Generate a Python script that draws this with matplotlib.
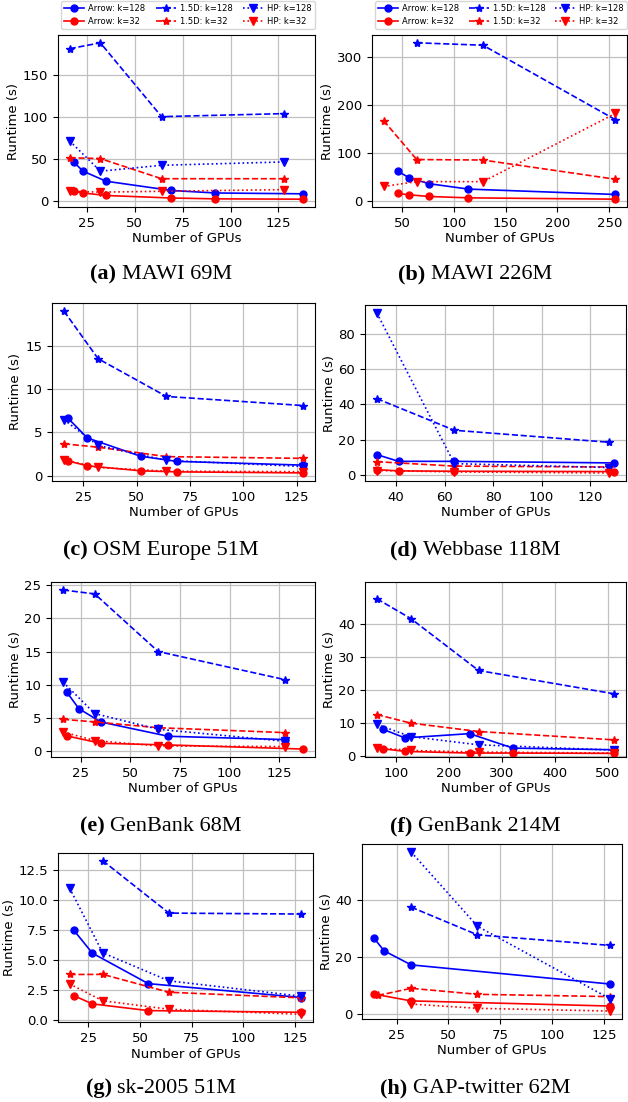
import matplotlib
matplotlib.use("Agg")
import matplotlib.pyplot as plt
from matplotlib.ticker import MultipleLocator, FixedLocator

# ---------------- data ----------------
# (a) MAWI 69M
mawi69_arrow_x = [18, 23, 35, 69, 92, 138]
mawi69_arrow128 = [46, 35, 23, 12, 9, 8]
mawi69_arrow32 = [11, 9, 6, 3, 2, 1.6]
mawi69_15d_x = [16, 32, 64, 128]
mawi69_15d128 = [181, 188, 100, 103.6]
mawi69_15d32 = [51, 50, 26, 26]
mawi69_hp_x = [16, 32, 64, 128]
mawi69_hp128 = [71, 35, 42, 46]
mawi69_hp32 = [11, 10, 11, 13]

# (b) MAWI 226M
mawi226_arrow_x = [46, 57, 76, 114, 256]
mawi226_arrow128 = [61.5, 47.6, 35.7, 24.5, 13.3]
mawi226_arrow32 = [15.4, 12.6, 9.1, 6.3, 3.5]
mawi226_15d128_x = [64, 128, 256]
mawi226_15d128 = [329, 324, 169]
mawi226_15d32_x = [32, 64, 128, 256]
mawi226_15d32 = [167, 86, 85, 45]
mawi226_hp128_x = []
mawi226_hp128 = []
mawi226_hp32_x = [32, 64, 128, 256]
mawi226_hp32 = [30, 40, 40, 182]

# (c) OSM Europe 51M
osm_arrow_x = [18, 27, 52, 69, 128]
osm_arrow128 = [6.6, 4.34, 2.23, 1.64, 1.21]
osm_arrow32 = [1.68, 1.13, 0.55, 0.43, 0.31]
osm_15d_x = [16, 32, 64, 128]
osm_15d128 = [19.0, 13.5, 9.14, 8.09]
osm_15d32 = [3.67, 3.28, 2.19, 1.99]
osm_hp_x = [16, 32, 64, 128]
osm_hp128 = [6.45, 3.48, 1.76, 1.05]
osm_hp32 = [1.8, 0.94, 0.51, 0.45]

# (d) Webbase 118M
web_arrow_x = [32, 41, 64, 130]
web_arrow128 = [11.5, 7.7, 7.7, 6.8]
web_arrow32 = [3.0, 2.3, 2.1, 1.9]
web_15d_x = [32, 64, 128]
web_15d128 = [43.2, 25.3, 18.5]
web_15d32 = [7.5, 5.0, 4.5]
web_hp_x = [32, 64, 128]
web_hp128 = [91.7, 6.4, 4.2]
web_hp32 = [2.5, 1.7, 1.1]

# (e) GenBank 68M
gb68_arrow128_x = [18, 24, 35, 69, 128]
gb68_arrow128 = [8.84, 6.38, 4.37, 2.21, 1.71]
gb68_arrow32_x = [18, 35, 69, 137]
gb68_arrow32 = [2.26, 1.15, 0.9, 0.28]
gb68_15d_x = [16, 32, 64, 128]
gb68_15d128 = [24.3, 23.7, 15.0, 10.75]
gb68_15d32 = [4.77, 4.37, 3.5, 2.76]
gb68_hp_x = [16, 32, 64, 128]
gb68_hp128 = [10.4, 5.63, 3.27, 1.45]
gb68_hp32 = [2.86, 1.56, 0.75, 0.65]

# (f) GenBank 214M
gb214_arrow_x = [76, 117, 239, 321, 512]
gb214_arrow128 = [8.1, 5.5, 6.8, 2.4, 1.9]
gb214_arrow32 = [2.2, 1.4, 0.9, 0.9, 0.8]
gb214_15d_x = [64, 128, 256, 512]
gb214_15d128 = [47.8, 41.8, 26.0, 18.9]
gb214_15d32 = [12.6, 10.0, 7.45, 4.9]
gb214_hp_x = [64, 128, 256, 512]
gb214_hp128 = [9.6, 5.9, 3.4, 1.8]
gb214_hp32 = [2.5, 1.7, 1.2, 0.9]
gb214_yticks = [0, 10, 20, 30, 40]

# (g) sk-2005 51M
sk_arrow_x = [18, 27, 54, 128]
sk_arrow128 = [7.49, 5.57, 3.03, 1.87]
sk_arrow32 = [2.03, 1.34, 0.78, 0.64]
sk_15d128_x = [32, 64, 128]
sk_15d128 = [13.28, 8.91, 8.83]
sk_15d32_x = [16, 32, 64, 128]
sk_15d32 = [3.79, 3.8, 2.31, 1.84]
sk_hp_x = [16, 32, 64, 128]
sk_hp128 = [11.0, 5.6, 3.26, 1.98]
sk_hp32 = [3.0, 1.6, 0.89, 0.47]

# (h) GAP-twitter 62M
tw_arrow128_x = [14, 19, 32, 128]
tw_arrow128 = [26.7, 22.2, 17.3, 10.6]
tw_arrow32_x = [14, 32, 128]
tw_arrow32 = [7.1, 4.7, 2.9]
tw_15d128_x = [32, 64, 128]
tw_15d128 = [37.5, 27.8, 24.1]
tw_15d32_x = [16, 32, 64, 128]
tw_15d32 = [6.6, 9.1, 7.0, 6.2]
tw_hp_x = [32, 64, 128]
tw_hp128 = [56.8, 30.8, 5.4]
tw_hp32 = [3.6, 2.1, 1.15]

series_labels = ["Arrow: k=128", "Arrow: k=32", "1.5D: k=128",
                 "1.5D: k=32", "HP: k=128", "HP: k=32"]
caption_tags = ["(a)", "(b)", "(c)", "(d)", "(e)", "(f)", "(g)", "(h)"]
caption_names = ["MAWI 69M", "MAWI 226M", "OSM Europe 51M", "Webbase 118M",
                 "GenBank 68M", "GenBank 214M", "sk-2005 51M", "GAP-twitter 62M"]

# ---------------- figure ----------------
W, H = 628, 1102
fig = plt.figure(figsize=(W / 100, H / 100), dpi=100)
plt.rcParams["font.family"] = ["DejaVu Sans"]

def box(l, r, t, b):
    return [l / W, 1 - b / H, (r - l) / W, (b - t) / H]

panels = [
    dict(pos=box(58, 315, 35, 207), xs=25, ys=50, legend=True, data=[
        (mawi69_arrow_x, mawi69_arrow128), (mawi69_arrow_x, mawi69_arrow32),
        (mawi69_15d_x, mawi69_15d128), (mawi69_15d_x, mawi69_15d32),
        (mawi69_hp_x, mawi69_hp128), (mawi69_hp_x, mawi69_hp32)]),
    dict(pos=box(372, 627, 35, 207), xs=50, ys=100, legend=True, data=[
        (mawi226_arrow_x, mawi226_arrow128), (mawi226_arrow_x, mawi226_arrow32),
        (mawi226_15d128_x, mawi226_15d128), (mawi226_15d32_x, mawi226_15d32),
        (mawi226_hp128_x, mawi226_hp128), (mawi226_hp32_x, mawi226_hp32)]),
    dict(pos=box(52, 315, 303, 481), xs=25, ys=5, legend=False, data=[
        (osm_arrow_x, osm_arrow128), (osm_arrow_x, osm_arrow32),
        (osm_15d_x, osm_15d128), (osm_15d_x, osm_15d32),
        (osm_hp_x, osm_hp128), (osm_hp_x, osm_hp32)]),
    dict(pos=box(365, 626, 305, 481), xs=20, ys=20, legend=False, data=[
        (web_arrow_x, web_arrow128), (web_arrow_x, web_arrow32),
        (web_15d_x, web_15d128), (web_15d_x, web_15d32),
        (web_hp_x, web_hp128), (web_hp_x, web_hp32)]),
    dict(pos=box(51, 315, 582, 757), xs=25, ys=5, legend=False, data=[
        (gb68_arrow128_x, gb68_arrow128), (gb68_arrow32_x, gb68_arrow32),
        (gb68_15d_x, gb68_15d128), (gb68_15d_x, gb68_15d32),
        (gb68_hp_x, gb68_hp128), (gb68_hp_x, gb68_hp32)]),
    dict(pos=box(365, 626, 582, 757), xs=100, ys=10, legend=False,
         yticks=gb214_yticks, ylim=(-0.3, 52.9), data=[
        (gb214_arrow_x, gb214_arrow128), (gb214_arrow_x, gb214_arrow32),
        (gb214_15d_x, gb214_15d128), (gb214_15d_x, gb214_15d32),
        (gb214_hp_x, gb214_hp128), (gb214_hp_x, gb214_hp32)]),
    dict(pos=box(58, 313, 853, 1022), xs=25, ys=2.5, legend=False, data=[
        (sk_arrow_x, sk_arrow128), (sk_arrow_x, sk_arrow32),
        (sk_15d128_x, sk_15d128), (sk_15d32_x, sk_15d32),
        (sk_hp_x, sk_hp128), (sk_hp_x, sk_hp32)]),
    dict(pos=box(362, 622, 844, 1019), xs=25, ys=20, legend=False, data=[
        (tw_arrow128_x, tw_arrow128), (tw_arrow32_x, tw_arrow32),
        (tw_15d128_x, tw_15d128), (tw_15d32_x, tw_15d32),
        (tw_hp_x, tw_hp128), (tw_hp_x, tw_hp32)]),
]

styles = [
    dict(color="blue", marker="o", ls="-", ms=5),
    dict(color="red", marker="o", ls="-", ms=5),
    dict(color="blue", marker="*", ls="--", ms=6),
    dict(color="red", marker="*", ls="--", ms=6),
    dict(color="blue", marker="v", ls=":", ms=5.5),
    dict(color="red", marker="v", ls=":", ms=5.5),
]

legend_boxes = {0: (61, 315), 1: (375, 627)}

for i, p in enumerate(panels):
    ax = fig.add_axes(p["pos"])
    for (x, y), st, lab in zip(p["data"], styles, series_labels):
        ax.plot(x, y, color=st["color"], marker=st["marker"], linestyle=st["ls"],
                markersize=st["ms"], linewidth=1.2, label=lab)
    ax.xaxis.set_major_locator(MultipleLocator(p["xs"]))
    if "yticks" in p:
        ax.yaxis.set_major_locator(FixedLocator(p["yticks"]))
    else:
        ax.yaxis.set_major_locator(MultipleLocator(p["ys"]))
    if "ylim" in p:
        ax.set_ylim(*p["ylim"])
    ax.grid(True, color="#c0c0c0", linewidth=0.9)
    ax.set_axisbelow(True)
    ax.tick_params(labelsize=9.5)
    ax.set_xlabel("Number of GPUs", fontsize=9.5, labelpad=2)
    ax.set_ylabel("Runtime (s)", fontsize=9.5, labelpad=2)
    if p["legend"]:
        l, r = legend_boxes[i]
        ax.legend(loc="upper left", bbox_to_anchor=(l / W, 1 - 1 / H, (r - l) / W, 0.0),
                  bbox_transform=fig.transFigure, mode="expand", ncol=3,
                  fontsize=6, borderaxespad=0, handlelength=2.4,
                  labelspacing=0.45, borderpad=0.35, columnspacing=1.0,
                  handletextpad=0.5)

# captions: bold tag + regular name, centred
renderer = fig.canvas.get_renderer()
cap_x = [161, 475]
cap_base = [279, 555, 831, 1093]
for i in range(8):
    xc = cap_x[i % 2]
    yb = cap_base[i // 2]
    t1 = fig.text(0, 0, caption_tags[i], fontfamily="Liberation Serif",
                  fontweight="bold", fontsize=16, va="baseline")
    t2 = fig.text(0, 0, caption_names[i], fontfamily="Liberation Serif",
                  fontsize=16, va="baseline")
    w1 = t1.get_window_extent(renderer).width
    w2 = t2.get_window_extent(renderer).width
    gap = 0.25 * 16 * 100 / 72
    x0 = xc - (w1 + gap + w2) / 2
    t1.set_position((x0 / W, 1 - yb / H))
    t2.set_position(((x0 + w1 + gap) / W, 1 - yb / H))

fig.savefig("out.png", dpi=100)
